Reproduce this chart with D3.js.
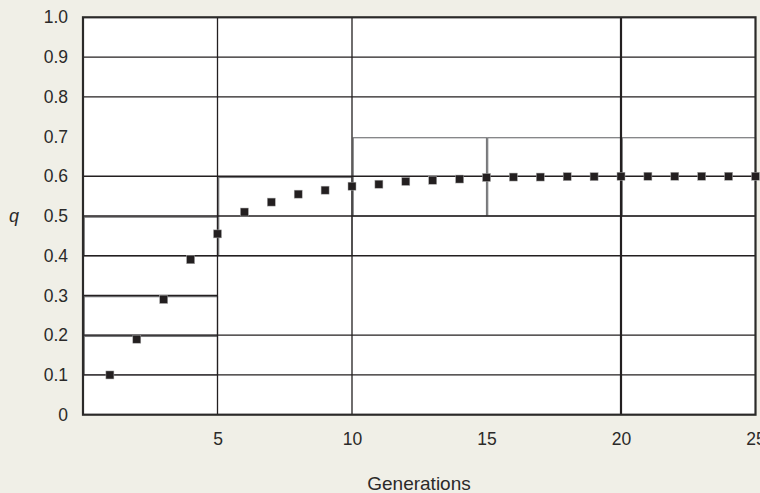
<!DOCTYPE html>
<html>
<head>
<meta charset="utf-8">
<script src="https://cdn.jsdelivr.net/npm/d3@7"></script>
<style>
  html, body { margin: 0; padding: 0; background: #f0efe7; }
  svg { display: block; }
  text { font-family: "Liberation Sans", Arial, Helvetica, sans-serif; fill: #2b2a29; }
</style>
</head>
<body>
<svg id="chart" width="760" height="493"></svg>
<script>
// Allele frequency q over successive generations
const generations = d3.range(1, 26);
const qValues = [0.10, 0.19, 0.29, 0.39, 0.455, 0.51, 0.535, 0.555, 0.565, 0.575,
                 0.58, 0.587, 0.59, 0.593, 0.597, 0.598, 0.598, 0.599, 0.599, 0.6,
                 0.6, 0.6, 0.6, 0.6, 0.6];

const xTicks = [5, 10, 15, 20, 25];
const yTicks = [0, 0.1, 0.2, 0.3, 0.4, 0.5, 0.6, 0.7, 0.8, 0.9, 1.0];

// Dark horizontal rules: [q, from generation, to generation]
const hRules = [[0.1, 0, 25], [0.2, 0, 25], [0.3, 0, 5], [0.4, 0, 25],
                [0.5, 0, 25], [0.6, 0, 25], [0.8, 0, 25], [0.9, 0, 25]];
// Dark vertical rules at these generations
const vRules = [5, 10, 20];
// Lighter boxes: [gen from, gen to, q from, q to]
const greyBoxes = [[0, 5, 0.1, 0.2], [0, 5, 0.2, 0.3], [0, 5, 0.4, 0.5],
                   [5, 10, 0.4, 0.6], [10, 15, 0.5, 0.7], [15, 20, 0.5, 0.7],
                   [20, 25, 0.5, 0.7]];

const svg = d3.select("#chart");
const x = d3.scaleLinear().domain([0, 25]).range([83, 755.5]);
const y = d3.scaleLinear().domain([0, 1]).range([414.7, 17.3]);

// plot panel
svg.append("rect")
  .attr("x", x(0)).attr("y", y(1))
  .attr("width", x(25) - x(0)).attr("height", y(0) - y(1))
  .attr("fill", "#ffffff");

// lighter boxes, nudged inward so they show beside the dark rules
svg.append("g").selectAll("rect").data(greyBoxes).join("rect")
  .attr("x", d => x(d[0]) + 1.2)
  .attr("y", d => y(d[3]) + 1.2)
  .attr("width", d => x(d[1]) - x(d[0]) - 1.2)
  .attr("height", d => y(d[2]) - y(d[3]) - 1.2)
  .attr("fill", "none")
  .attr("stroke", "#77787a")
  .attr("stroke-width", 1.2);

// dark rules
svg.append("g").selectAll("line").data(hRules).join("line")
  .attr("x1", d => x(d[1])).attr("x2", d => x(d[2]))
  .attr("y1", d => y(d[0])).attr("y2", d => y(d[0]))
  .attr("stroke", "#231f20").attr("stroke-width", 1.3);

svg.append("g").selectAll("line").data(vRules).join("line")
  .attr("x1", d => x(d)).attr("x2", d => x(d))
  .attr("y1", y(0)).attr("y2", y(1))
  .attr("stroke", "#231f20")
  .attr("stroke-width", d => d === 20 ? 2.2 : 1.3);

// panel frame
svg.append("rect")
  .attr("x", x(0)).attr("y", y(1))
  .attr("width", x(25) - x(0)).attr("height", y(0) - y(1))
  .attr("fill", "none")
  .attr("stroke", "#2b2a29").attr("stroke-width", 2.2);

// data markers
const size = 8;
svg.append("g").selectAll("rect").data(generations).join("rect")
  .attr("x", (d, i) => x(d) - size / 2)
  .attr("y", (d, i) => y(qValues[i]) - size / 2)
  .attr("width", size).attr("height", size)
  .attr("fill", "#231f20")
  .attr("stroke", "#a9a9a9").attr("stroke-width", 0.5);

// axes (labels only)
const xAxis = svg.append("g")
  .attr("transform", `translate(0,${y(0) + 18})`)
  .call(d3.axisBottom(x).tickValues(xTicks).tickSize(0).tickPadding(0).tickFormat(d3.format("d")));
xAxis.select(".domain").remove();
xAxis.selectAll("text")
  .attr("dy", "0.71em")
  .style("font-size", "17.5px").style("font-family", "'Liberation Sans', Arial, sans-serif")
  .attr("fill", "#2b2a29");

const yAxis = svg.append("g")
  .attr("transform", `translate(${x(0) - 15},0)`)
  .call(d3.axisLeft(y).tickValues(yTicks).tickSize(0).tickPadding(0)
    .tickFormat(d => d === 0 ? "0" : d3.format(".1f")(d)));
yAxis.select(".domain").remove();
yAxis.selectAll("text")
  .style("font-size", "17.5px").style("font-family", "'Liberation Sans', Arial, sans-serif")
  .attr("fill", "#2b2a29");

// axis titles
svg.append("text")
  .attr("x", 14).attr("y", y(0.5))
  .attr("dy", "0.35em")
  .attr("text-anchor", "middle")
  .style("font-size", "18px").style("font-style", "italic")
  .text("q");

svg.append("text")
  .attr("x", 419).attr("y", 489.5)
  .attr("text-anchor", "middle")
  .style("font-size", "19px")
  .text("Generations");
</script>
</body>
</html>
